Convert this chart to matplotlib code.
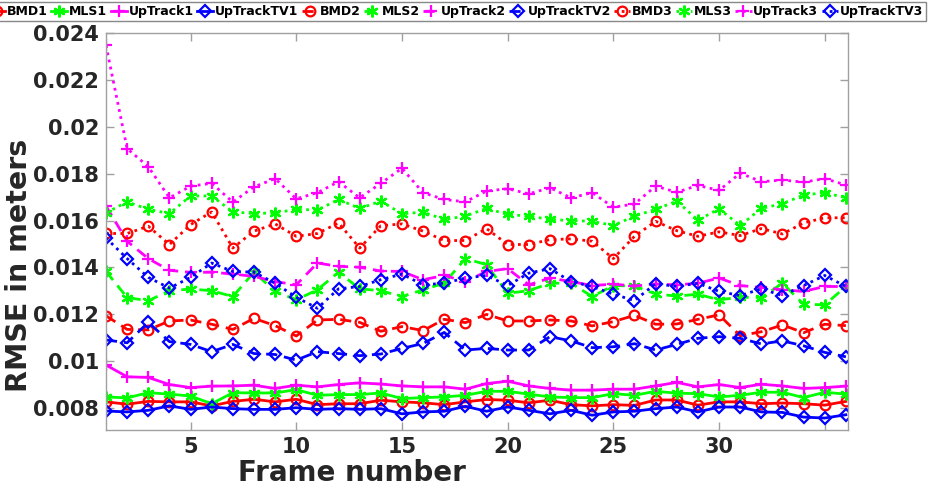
import numpy as np
import matplotlib
matplotlib.use('Agg')
import matplotlib.pyplot as plt

# frame numbers
frames = np.arange(1, 37)

# set 1 (solid)
bmd1 = [0.00827, 0.00817, 0.00829, 0.00827, 0.00827, 0.00810, 0.00829, 0.00838, 0.00827, 0.00838,
        0.00815, 0.00819, 0.00819, 0.00834, 0.00827, 0.00823, 0.00815, 0.00827, 0.00837, 0.00834,
        0.00823, 0.00834, 0.00815, 0.00810, 0.00815, 0.00812, 0.00835, 0.00835, 0.00813, 0.00827,
        0.00827, 0.00819, 0.00822, 0.00819, 0.00813, 0.00829]
mls1 = [0.00848, 0.00844, 0.00866, 0.00860, 0.00852, 0.00819, 0.00866, 0.00865, 0.00865, 0.00879,
        0.00855, 0.00858, 0.00858, 0.00865, 0.00841, 0.00845, 0.00848, 0.00855, 0.00872, 0.00872,
        0.00860, 0.00848, 0.00845, 0.00845, 0.00862, 0.00855, 0.00872, 0.00864, 0.00862, 0.00848,
        0.00855, 0.00868, 0.00868, 0.00845, 0.00868, 0.00860]
uptrack1 = [0.00984, 0.00934, 0.00931, 0.00901, 0.00888, 0.00894, 0.00895, 0.00898, 0.00884, 0.00898,
            0.00891, 0.00901, 0.00908, 0.00903, 0.00895, 0.00891, 0.00891, 0.00881, 0.00905, 0.00915,
            0.00895, 0.00884, 0.00877, 0.00877, 0.00881, 0.00881, 0.00895, 0.00910, 0.00891, 0.00901,
            0.00888, 0.00902, 0.00895, 0.00884, 0.00888, 0.00894]
uptracktv1 = [0.00788, 0.00784, 0.00791, 0.00810, 0.00795, 0.00805, 0.00798, 0.00795, 0.00795, 0.00802,
              0.00795, 0.00798, 0.00795, 0.00798, 0.00776, 0.00784, 0.00787, 0.00808, 0.00787, 0.00805,
              0.00791, 0.00776, 0.00791, 0.00770, 0.00784, 0.00787, 0.00798, 0.00805, 0.00784, 0.00805,
              0.00805, 0.00784, 0.00782, 0.00762, 0.00758, 0.00772]

# set 2 (dashed)
bmd2 = [0.01194, 0.01136, 0.01134, 0.01172, 0.01176, 0.01158, 0.01136, 0.01183, 0.01152, 0.01108,
        0.01176, 0.01179, 0.01166, 0.01128, 0.01148, 0.01131, 0.01179, 0.01165, 0.01200, 0.01172,
        0.01172, 0.01176, 0.01172, 0.01151, 0.01169, 0.01196, 0.01158, 0.01159, 0.01179, 0.01198,
        0.01109, 0.01126, 0.01155, 0.01122, 0.01158, 0.01152]
mls2 = [0.01383, 0.01272, 0.01258, 0.01301, 0.01308, 0.01301, 0.01276, 0.01380, 0.01298, 0.01262,
        0.01305, 0.01380, 0.01309, 0.01301, 0.01276, 0.01305, 0.01333, 0.01438, 0.01412, 0.01290,
        0.01301, 0.01333, 0.01333, 0.01276, 0.01323, 0.01321, 0.01287, 0.01278, 0.01286, 0.01262,
        0.01273, 0.01272, 0.01333, 0.01243, 0.01241, 0.01319]
uptrack2 = [0.01662, 0.01512, 0.01438, 0.01388, 0.01379, 0.01380, 0.01372, 0.01362, 0.01340, 0.01326,
            0.01419, 0.01405, 0.01401, 0.01385, 0.01383, 0.01348, 0.01366, 0.01340, 0.01383, 0.01395,
            0.01326, 0.01355, 0.01340, 0.01323, 0.01329, 0.01321, 0.01329, 0.01326, 0.01333, 0.01355,
            0.01323, 0.01315, 0.01305, 0.01298, 0.01319, 0.01319]
uptracktv2 = [0.01091, 0.01079, 0.01166, 0.01084, 0.01072, 0.01041, 0.01072, 0.01033, 0.01029, 0.01005,
              0.01041, 0.01033, 0.01024, 0.01031, 0.01055, 0.01076, 0.01123, 0.01048, 0.01055, 0.01048,
              0.01048, 0.01105, 0.01087, 0.01058, 0.01062, 0.01075, 0.01048, 0.01072, 0.01098, 0.01105,
              0.01098, 0.01074, 0.01087, 0.01066, 0.01038, 0.01019]

# set 3 (dotted)
bmd3 = [0.01545, 0.01545, 0.01576, 0.01498, 0.01583, 0.01637, 0.01483, 0.01555, 0.01586, 0.01533,
        0.01545, 0.01590, 0.01483, 0.01578, 0.01586, 0.01555, 0.01515, 0.01515, 0.01566, 0.01498,
        0.01498, 0.01519, 0.01522, 0.01512, 0.01438, 0.01533, 0.01597, 0.01557, 0.01533, 0.01552,
        0.01536, 0.01566, 0.01543, 0.01590, 0.01612, 0.01612]
mls3 = [0.01633, 0.01680, 0.01648, 0.01630, 0.01705, 0.01705, 0.01637, 0.01630, 0.01633, 0.01648,
        0.01645, 0.01690, 0.01652, 0.01683, 0.01629, 0.01636, 0.01605, 0.01619, 0.01652, 0.01626,
        0.01619, 0.01605, 0.01600, 0.01597, 0.01579, 0.01619, 0.01648, 0.01683, 0.01602, 0.01650,
        0.01579, 0.01652, 0.01672, 0.01709, 0.01719, 0.01697]
uptrack3 = [0.02347, 0.01907, 0.01830, 0.01697, 0.01747, 0.01759, 0.01679, 0.01744, 0.01779, 0.01693,
            0.01719, 0.01766, 0.01697, 0.01759, 0.01823, 0.01719, 0.01690, 0.01680, 0.01726, 0.01736,
            0.01714, 0.01740, 0.01697, 0.01719, 0.01657, 0.01671, 0.01747, 0.01721, 0.01750, 0.01729,
            0.01802, 0.01766, 0.01773, 0.01764, 0.01779, 0.01752]
uptracktv3 = [0.01526, 0.01438, 0.01358, 0.01312, 0.01358, 0.01419, 0.01383, 0.01380, 0.01333, 0.01273,
              0.01226, 0.01309, 0.01319, 0.01348, 0.01372, 0.01326, 0.01333, 0.01355, 0.01366, 0.01323,
              0.01376, 0.01395, 0.01340, 0.01319, 0.01286, 0.01259, 0.01331, 0.01319, 0.01333, 0.01298,
              0.01280, 0.01309, 0.01280, 0.01323, 0.01366, 0.01319]

names = ['BMD1', 'MLS1', 'UpTrack1', 'UpTrackTV1',
         'BMD2', 'MLS2', 'UpTrack2', 'UpTrackTV2',
         'BMD3', 'MLS3', 'UpTrack3', 'UpTrackTV3']
series = [bmd1, mls1, uptrack1, uptracktv1,
          bmd2, mls2, uptrack2, uptracktv2,
          bmd3, mls3, uptrack3, uptracktv3]

colors = ['#ff0000', '#00ff00', '#ff00ff', '#0000ff']
markers = ['o', (6, 2, 0), '+', 'D']
msizes = [7, 8.5, 9, 6]
styles = ['-', (0, (4, 2.5)), (0, (1, 1.6))]

yticks = [0.008, 0.01, 0.012, 0.014, 0.016, 0.018, 0.02, 0.022, 0.024]
ytick_labels = ['0.008', '0.01', '0.012', '0.014', '0.016', '0.018', '0.02', '0.022', '0.024']
xticks = [5, 10, 15, 20, 25, 30, 35]
xtick_labels = ['5', '10', '15', '20', '25', '30', '']

fig = plt.figure(figsize=(9.32, 4.92), dpi=100)
ax = fig.add_axes([106 / 932, 62 / 492, 742 / 932, 397 / 492])

for k, (name, vals) in enumerate(zip(names, series)):
    c = colors[k % 4]
    ax.plot(frames, vals, color=c, linestyle=styles[k // 4], linewidth=2.0,
            marker=markers[k % 4], markersize=msizes[k % 4], markerfacecolor='none',
            markeredgecolor=c, markeredgewidth=1.6, label=name)

ax.set_xlim(1, 36.1)
ax.set_ylim(0.00707, 0.024)
ax.set_xticks(xticks)
ax.set_xticklabels(xtick_labels)
ax.set_yticks(yticks)
ax.set_yticklabels(ytick_labels)

grey = '#a0a0a0'
for s in ax.spines.values():
    s.set_color(grey)
    s.set_linewidth(1.0)
ax.tick_params(direction='in', length=6, width=1, color=grey, top=True, right=True,
               labelsize=15, labelcolor='#262626', pad=5)
for lab in ax.get_xticklabels() + ax.get_yticklabels():
    lab.set_fontweight('bold')

ax.set_xlabel('Frame number', fontsize=20, fontweight='bold', color='#262626')
ax.xaxis.set_label_coords(0.3315, -0.072)
ax.set_ylabel('RMSE in meters', fontsize=20.5, fontweight='bold', color='#262626',
              va='center', ha='center')
ax.yaxis.set_label_coords(-0.117, 0.4156)

leg = fig.legend(loc='upper right', bbox_to_anchor=(926 / 932, 1 - 2 / 492), ncol=12,
                 prop={'weight': 'bold', 'size': 9},
                 handlelength=1.3, handletextpad=0.15, columnspacing=0.25,
                 borderpad=0.25, borderaxespad=0, fancybox=False, framealpha=1)
leg.get_frame().set_edgecolor('#888888')
leg.get_frame().set_linewidth(1.0)

fig.savefig('out.png', dpi=100)
